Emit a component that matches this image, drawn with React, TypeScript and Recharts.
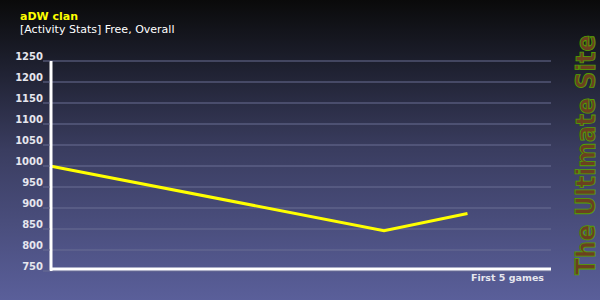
import React from "react";
import { LineChart, Line, XAxis, YAxis, CartesianGrid } from "recharts";

const games = [0, 1, 2, 3, 4, 5];
const ratings: (number | null)[] = [1000, null, null, null, 846, 887];
const yTicks = [750, 800, 850, 900, 950, 1000, 1050, 1100, 1150, 1200, 1250];

const data = games.map((g, i) => ({ game: g, rating: ratings[i] }));

const TickLabel = (props: any) => {
  const { x, y, payload } = props;
  return (
    <text
      x={x}
      y={y}
      dy={-4}
      textAnchor="end"
      dominantBaseline="middle"
      fill="#e6e6ee"
      fontFamily="DejaVu Sans"
      fontWeight="bold"
      fontSize={10}
    >
      {payload.value}
    </text>
  );
};

export default function App() {
  return (
    <div
      style={{
        position: "fixed",
        left: 0,
        top: 0,
        width: 600,
        height: 300,
        background: "linear-gradient(to bottom, #0a0a0a 0%, #1c1e2c 20%, #3a3d60 50%, #5a5f9a 100%)",
      }}
    >
      <LineChart
        width={600}
        height={300}
        data={data}
        margin={{ top: 61, right: 49, bottom: 0, left: 0 }}
      >
        <CartesianGrid horizontal vertical={false} stroke="#6a6e94" strokeWidth={1} />
        <XAxis
          dataKey="game"
          type="number"
          domain={[0, 6]}
          tick={false}
          tickLine={false}
          axisLine={{ stroke: "#ffffff", strokeWidth: 3, transform: "translate(0,-2)" }}
          height={29}
        />
        <YAxis
          domain={[750, 1250]}
          ticks={yTicks}
          interval={0}
          width={50}
          tickSize={7}
          tickMargin={0}
          tickLine={{ stroke: "#6a6e94" }}
          axisLine={{ stroke: "#ffffff", strokeWidth: 3, transform: "translate(1,0)" }}
          tick={<TickLabel />}
        />
        <Line
          dataKey="rating"
          stroke="#ffff00"
          strokeWidth={3}
          dot={false}
          connectNulls
          isAnimationActive={false}
        />
      </LineChart>
      <svg
        width={600}
        height={300}
        style={{ position: "absolute", left: 0, top: 0, pointerEvents: "none" }}
      >
        <text x={20} y={20} fill="#ffff00" fontFamily="DejaVu Sans" fontWeight="bold" fontSize={11}>
          aDW clan
        </text>
        <text x={20} y={33} fill="#ffffff" fontFamily="DejaVu Sans" fontSize={11}>
          [Activity Stats] Free, Overall
        </text>
        <text
          x={544}
          y={281}
          textAnchor="end"
          fill="#e6e6ee"
          fontFamily="DejaVu Sans"
          fontWeight="bold"
          fontSize={9.5}
        >
          First 5 games
        </text>
        <text
          transform="translate(595,275) rotate(-90)"
          x={0}
          y={0}
          fill="#6b4020"
          stroke="#55a000"
          strokeWidth={0.9}
          fontFamily="DejaVu Sans"
          fontWeight="bold"
          fontSize={27}
          textLength={240}
          lengthAdjust="spacingAndGlyphs"
        >
          The Ultimate Site
        </text>
      </svg>
    </div>
  );
}
